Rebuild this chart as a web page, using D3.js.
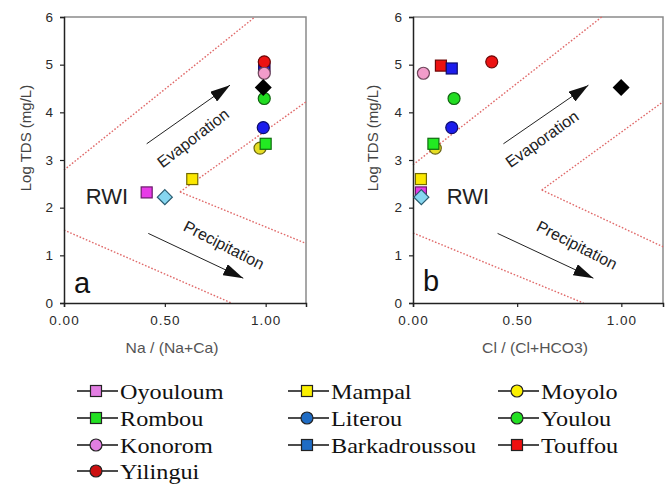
<!doctype html>
<html lang="en">
<head>
	<meta charset="UTF-8">
	<title>Gibbs diagrams</title>
	<script src="https://cdn.jsdelivr.net/npm/d3@7"></script>
	<style>
		body { margin: 0; background: #fff; }
		svg { display: block; }
		.sans { font-family: "Liberation Sans", Arial, sans-serif; }
		.serif { font-family: "Liberation Serif", "Times New Roman", "DejaVu Serif", serif; }
	</style>
</head>
<body>
	<script>
		// sites, in legend order by row
		var sites = ['Oyouloum', 'Mampal', 'Moyolo', 'Rombou', 'Literou', 'Youlou', 'Konorom', 'Barkadroussou', 'Touffou', 'Yilingui'];
		var shapes = ['square', 'square', 'circle', 'square', 'circle', 'circle', 'circle', 'square', 'square', 'circle'];
		var plotColors = ['#e83ae8', '#fbe800', '#e6de22', '#22ea22', '#1c1cec', '#22dc22', '#f29cca', '#1c1cec', '#ec1212', '#ec1212'];
		var legendColors = ['#e27ee2', '#fbf000', '#fbf000', '#22e022', '#1f6cc4', '#22e022', '#e27ee2', '#1f6cc4', '#ee1010', '#cc1010'];

		var naRatio = [0.41, 0.636, 0.972, 1.0, 0.988, 0.993, 0.993, 0.993, 0.993, 0.993];
		var clRatio = [0.038, 0.038, 0.107, 0.098, 0.186, 0.197, 0.05, 0.186, 0.134, 0.378];
		var logTDS = [2.32, 2.6, 3.25, 3.34, 3.68, 4.29, 4.82, 4.92, 4.98, 5.06];

		// reference points: RWI (rain water) and black diamond
		var rwi = { na: 0.50, cl: 0.04, tds: 2.22 };
		var blackPt = { na: 0.988, cl: 0.999, tds: 4.52 };

		// draw order (front-most last)
		var drawOrder = [0, 1, 2, 3, 8, 7, 9, 6, 4, 5];

		// Gibbs boundary lines (data coordinates)
		var boundA = [[[0, 2.79], [0.947, 6]], [[0.575, 2.33], [1.2, 4.22]], [[0.575, 2.33], [1.2, 1.25]], [[0, 1.53], [0.83, 0]]];
		var boundB = [[[0, 2.9], [0.906, 6]], [[0.618, 2.37], [1.2, 4.22]], [[0.618, 2.37], [1.2, 1.18]], [[0, 1.47], [0.818, 0]]];
		var arrowsA = [[[0.41, 3.34], [0.823, 4.57]], [[0.418, 1.46], [0.889, 0.52]]];
		var arrowsB = [[[0.434, 3.34], [0.842, 4.57]], [[0.406, 1.46], [0.866, 0.52]]];

		var xTicks = [0, 0.5, 1.0];
		var yTicks = [0, 1, 2, 3, 4, 5, 6];

		var W = 670, H = 484;
		var svg = d3.select('body').append('svg')
			.attr('width', W)
			.attr('height', H)
			.attr('class', 'sans');

		var defs = svg.append('defs');
		defs.append('marker')
			.attr('id', 'arrow')
			.attr('viewBox', '0 0 10 10')
			.attr('refX', 10).attr('refY', 5)
			.attr('markerUnits', 'userSpaceOnUse')
			.attr('markerWidth', 20).attr('markerHeight', 12)
			.attr('orient', 'auto')
			.attr('preserveAspectRatio', 'none')
			.append('path')
			.attr('d', 'M0,0 L10,5 L0,10 Z')
			.attr('fill', '#111');

		function panel(opt) {
			var x = d3.scaleLinear().domain([0, 1.2]).range([opt.left, opt.right]);
			var y = d3.scaleLinear().domain([0, 6]).range([303, 17]);
			var g = svg.append('g');

			// frame (top/right)
			g.append('path')
				.attr('d', 'M' + x(0) + ',' + y(6) + 'H' + x(1.2) + 'V' + y(0))
				.attr('fill', 'none')
				.attr('stroke', '#8a8a8a')
				.attr('stroke-width', 1.5);

			var line = d3.line().x(function(d) { return x(d[0]); }).y(function(d) { return y(d[1]); });

			g.selectAll('path.bound')
				.data(opt.bounds)
				.enter().append('path')
				.attr('class', 'bound')
				.attr('d', line)
				.attr('fill', 'none')
				.attr('stroke', '#e06a6a')
				.attr('stroke-width', 1.4)
				.attr('stroke-dasharray', '1.6,1.8');

			g.selectAll('path.arrow')
				.data(opt.arrows)
				.enter().append('path')
				.attr('class', 'arrow')
				.attr('d', line)
				.attr('stroke', '#222')
				.attr('stroke-width', 1)
				.attr('marker-end', 'url(#arrow)');

			// axes
			var xAxis = d3.axisBottom(x).tickValues(xTicks).tickSize(4).tickPadding(8).tickFormat(d3.format('.2f'));
			var yAxis = d3.axisLeft(y).tickValues(yTicks).tickSize(4).tickPadding(6).tickFormat(d3.format('d'));
			var gx = g.append('g').attr('transform', 'translate(0,' + y(0) + ')').call(xAxis);
			var gy = g.append('g').attr('transform', 'translate(' + x(0) + ',0)').call(yAxis);
			[gx, gy].forEach(function(a) {
				a.attr('font-family', null);
				a.select('.domain').attr('stroke', '#222').attr('stroke-width', 1.5);
				a.selectAll('.tick line').attr('stroke', '#222').attr('stroke-width', 1.2);
				a.selectAll('.tick text')
					.attr('fill', '#2a2a2a')
					.style('font-size', '13.5px')
					.style('letter-spacing', '1px');
			});

			// axis titles
			g.append('text')
				.attr('transform', 'translate(' + opt.yTitleX + ',138) rotate(-90)')
				.attr('text-anchor', 'middle')
				.attr('fill', '#444')
				.style('font-size', '15px')
				.text('Log TDS (mg/L)');
			g.append('text')
				.attr('transform', 'translate(' + opt.xTitleX + ',353) scale(1.12,1)')
				.attr('text-anchor', 'middle')
				.attr('fill', '#555')
				.style('font-size', '14px')
				.text(opt.xTitle);

			// annotations
			g.append('text')
				.attr('transform', 'translate(' + opt.evap[0] + ',' + opt.evap[1] + ') rotate(' + opt.evap[2] + ')')
				.attr('text-anchor', 'middle').attr('dy', '0.35em')
				.attr('fill', '#222').style('font-size', '16px')
				.text('Evaporation');
			g.append('text')
				.attr('transform', 'translate(' + opt.prec[0] + ',' + opt.prec[1] + ') rotate(' + opt.prec[2] + ')')
				.attr('text-anchor', 'middle').attr('dy', '0.35em')
				.attr('fill', '#222').style('font-size', '16px')
				.text('Precipitation');
			g.append('text')
				.attr('x', opt.rwi[0]).attr('y', opt.rwi[1])
				.attr('text-anchor', 'middle').attr('dy', '0.36em')
				.attr('fill', '#222').style('font-size', '22px')
				.text('RWI');
			g.append('text')
				.attr('x', opt.letter[0]).attr('y', opt.letter[1])
				.attr('text-anchor', 'middle').attr('dy', '0.35em')
				.attr('fill', '#111').style('font-size', '29px')
				.text(opt.letterText);

			// points
			var pts = g.selectAll('g.pt')
				.data(drawOrder)
				.enter().append('g')
				.attr('class', 'pt')
				.attr('transform', function(i) {
					return 'translate(' + x(opt.xs[i]) + ',' + y(logTDS[i]) + ')';
				});
			pts.each(function(i) {
				var s = d3.select(this);
				if (shapes[i] === 'square') {
					s.append('rect').attr('x', -5.5).attr('y', -5.5).attr('width', 11).attr('height', 11);
				} else {
					s.append('circle').attr('r', 6);
				}
				s.selectAll('*')
					.attr('fill', plotColors[i])
					.attr('stroke', d3.color(plotColors[i]).darker(2.2))
					.attr('stroke-width', 1.2);
			});

			// RWI diamond
			g.append('path')
				.attr('transform', 'translate(' + x(opt.rwiX) + ',' + y(rwi.tds) + ')')
				.attr('d', 'M0,-7.5L7.5,0L0,7.5L-7.5,0Z')
				.attr('fill', '#86d6f0')
				.attr('stroke', '#2a5c70')
				.attr('stroke-width', 1.2);
			// black diamond
			g.append('path')
				.attr('transform', 'translate(' + x(opt.blackX) + ',' + y(blackPt.tds) + ')')
				.attr('d', 'M0,-8.5L8.5,0L0,8.5L-8.5,0Z')
				.attr('fill', '#000');
		}

		panel({
			left: 64, right: 306, xs: naRatio, bounds: boundA, arrows: arrowsA,
			xTitle: 'Na / (Na+Ca)', xTitleX: 172, yTitleX: 31,
			evap: [193, 138, -37.5], prec: [224, 245, 27],
			rwi: [107, 196], letter: [82, 283], letterText: 'a',
			rwiX: rwi.na, blackX: blackPt.na
		});
		panel({
			left: 413, right: 663, xs: clRatio, bounds: boundB, arrows: arrowsB,
			xTitle: 'Cl / (Cl+HCO3)', xTitleX: 535, yTitleX: 378,
			evap: [542, 139, -35.5], prec: [577, 245, 27],
			rwi: [468, 196], letter: [431, 281], letterText: 'b',
			rwiX: rwi.cl, blackX: blackPt.cl
		});

		// legend: 3 columns
		var legendCols = [[0, 3, 6, 9], [1, 4, 7], [2, 5, 8]];
		var colX = [77, 288, 498];
		var rowY = [391, 418, 445, 471];
		var leg = svg.append('g');
		legendCols.forEach(function(col, c) {
			col.forEach(function(i, r) {
				var it = leg.append('g').attr('transform', 'translate(' + colX[c] + ',' + rowY[r] + ')');
				it.append('line').attr('x1', 0).attr('x2', 41).attr('y1', 0).attr('y2', 0)
					.attr('stroke', '#111').attr('stroke-width', 1.3);
				var m;
				if (shapes[i] === 'square') {
					m = it.append('rect').attr('x', 19 - 5.5).attr('y', -5.5).attr('width', 11).attr('height', 11);
				} else {
					m = it.append('circle').attr('cx', 19).attr('r', 6);
				}
				m.attr('fill', legendColors[i]).attr('stroke', '#222').attr('stroke-width', 1.2);
				it.append('text')
					.attr('class', 'serif')
					.attr('transform', 'translate(43,8) scale(1.1,1)')
					.attr('fill', '#111')
					.style('font-size', '22px')
					.text(sites[i]);
			});
		});
	</script>
</body>
</html>
